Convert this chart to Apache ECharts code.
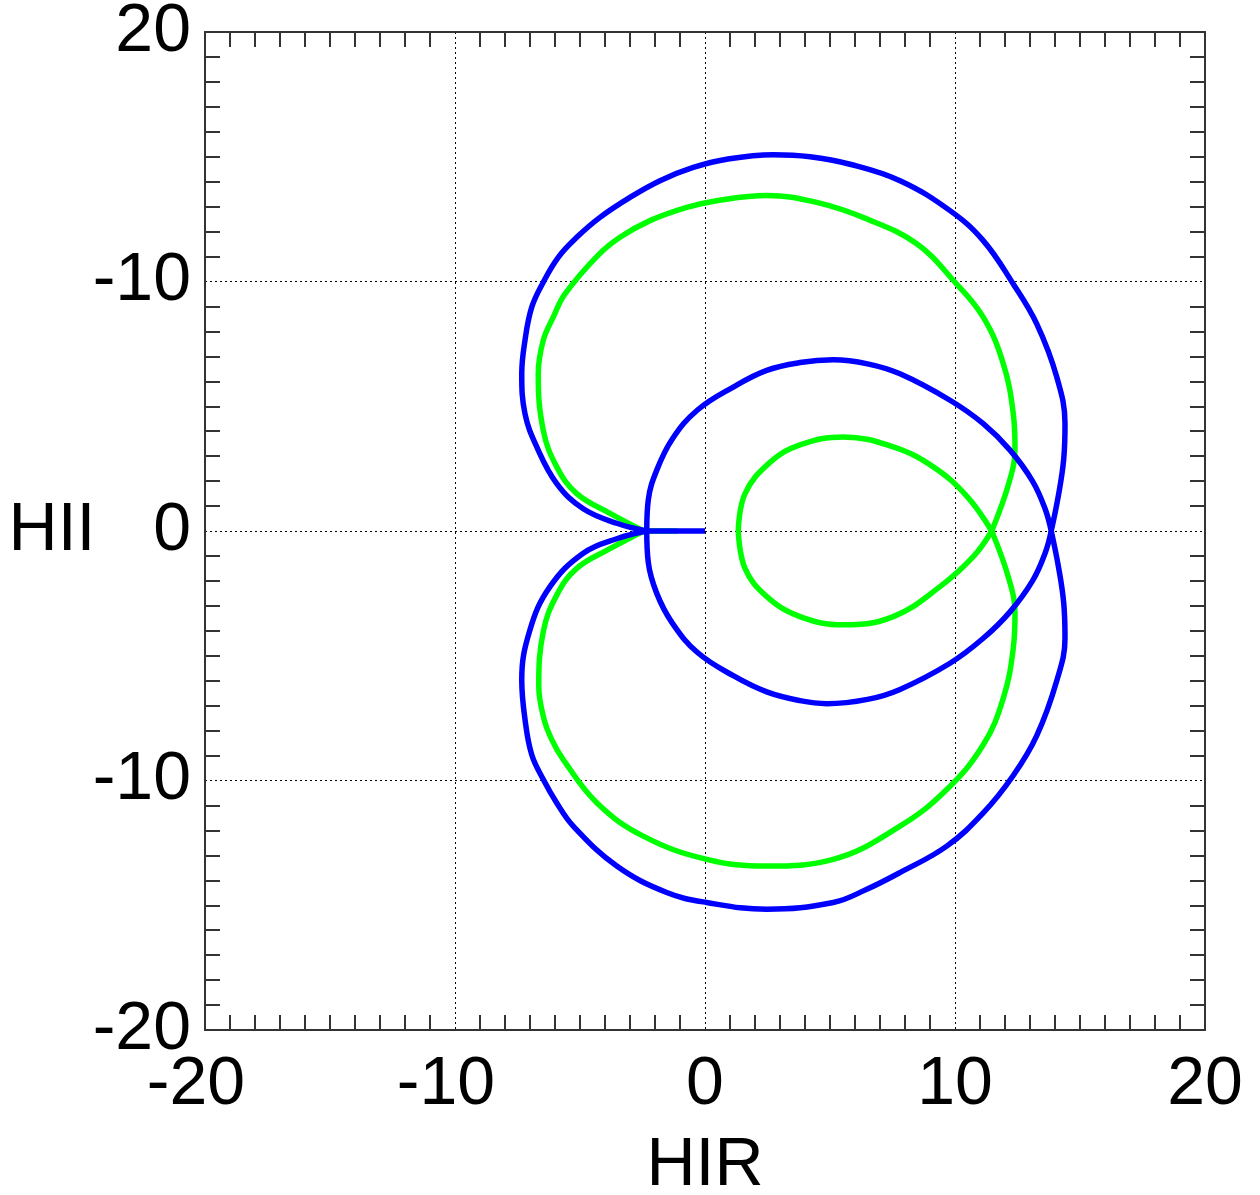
<!DOCTYPE html>
<html>
<head>
<meta charset="utf-8">
<script src="https://cdn.jsdelivr.net/npm/echarts@6/dist/echarts.min.js"></script>
<style>
html,body{margin:0;padding:0;background:#fff;}
#chart{width:1260px;height:1195px;}
</style>
</head>
<body>
<div id="chart"></div>
<script>
// ---- data (HIR, HII) ----
const xTickValues = [-20, -10, 0, 10, 20];
const xTickLabels = ['-20', '-10', '0', '10', '20'];
const yTickValues = [-20, -10, 0, 10, 20];
const yTickLabels = ['-20', '-10', '0', '-10', '20'];
const xName = 'HIR';
const yName = 'HII';

// blue curve segments
const blueOuterUpper = [[-2.33,0],[-3.5,0.3],[-4.87,0.89],[-5.93,1.9],[-6.73,3.37],[-7.2,4.7],[-7.33,6.31],[-7.2,7.64],[-6.93,8.97],[-6.47,9.97],[-5.87,10.97],[-5.13,11.77],[-4.2,12.57],[-3.0,13.37],[-1.8,14.04],[-0.47,14.57],[0.87,14.9],[2.73,15.08],[4.2,15.0],[5.8,14.7],[7.8,14.04],[9.8,12.84],[11.13,11.64],[12.33,9.9],[13.27,8.3],[14.07,6.17],[14.4,4.3],[14.35,2.9],[14.15,1.5],[13.85,0]];
const blueInnerLower = [[13.85,0],[13.6,-0.9],[13.1,-2.0],[12.2,-3.24],[11.13,-4.3],[9.8,-5.3],[7.8,-6.35],[6.5,-6.75],[4.87,-6.92],[3.8,-6.8],[2.47,-6.45],[1.13,-5.8],[-0.3,-4.87],[-1.3,-3.7],[-1.93,-2.5],[-2.27,-1.25],[-2.33,0]];
const blueInnerUpper = [[-2.33,0],[-2.27,1.24],[-1.93,2.44],[-1.3,3.7],[-0.3,4.85],[1.13,5.77],[2.47,6.44],[3.8,6.75],[5.13,6.86],[6.5,6.7],[7.8,6.3],[9.8,5.24],[11.13,4.3],[12.2,3.24],[13.1,2.0],[13.6,0.9],[13.85,0]];
const blueOuterLower = [[13.85,0],[14.15,-1.5],[14.35,-2.9],[14.4,-4.3],[14.07,-6.0],[13.27,-8.2],[12.33,-9.8],[11.13,-11.3],[9.67,-12.63],[7.8,-13.69],[6.47,-14.36],[5.13,-14.89],[2.47,-15.16],[0.07,-14.89],[-1.53,-14.49],[-3.53,-13.43],[-5.27,-11.83],[-5.93,-10.9],[-6.5,-9.9],[-6.93,-8.97],[-7.18,-7.7],[-7.33,-5.96],[-7.0,-3.96],[-6.2,-2.23],[-4.87,-0.89],[-3.5,-0.3],[-2.33,0]];
const blueTail = [[-2.33,0],[0,0]];

// green curve segments
const greenOuterUpper = [[-2.45,0],[-3.8,0.71],[-5.13,1.5],[-5.93,2.57],[-6.47,4.04],[-6.67,6.31],[-6.47,7.64],[-6.07,8.57],[-5.6,9.5],[-4.33,11.0],[-3.4,11.77],[-2.2,12.44],[-0.73,12.97],[0.47,13.24],[2.47,13.45],[4.47,13.17],[6.47,12.51],[8.47,11.51],[10.0,9.97],[11.13,8.57],[11.93,6.71],[12.33,4.71],[12.4,3.3],[12.15,1.9],[11.47,0]];
const greenInnerLower = [[11.47,0],[10.73,-1.03],[9.4,-2.23],[7.53,-3.43],[5.53,-3.76],[3.8,-3.43],[2.47,-2.63],[1.6,-1.5],[1.33,0]];
const greenInnerUpper = [[1.33,0],[1.6,1.5],[2.6,2.75],[3.8,3.45],[5.53,3.77],[7.53,3.37],[9.13,2.57],[10.47,1.4],[11.47,0]];
const greenOuterLower = [[11.47,0],[12.15,-1.9],[12.4,-3.3],[12.33,-4.71],[11.93,-6.71],[11.13,-8.57],[9.67,-10.36],[7.8,-11.83],[5.13,-13.16],[2.47,-13.43],[0.07,-13.16],[-2.47,-12.23],[-4.33,-10.89],[-5.67,-9.16],[-6.13,-8.36],[-6.45,-7.5],[-6.65,-6.2],[-6.47,-4.04],[-5.93,-2.57],[-5.13,-1.5],[-3.8,-0.71],[-2.45,0]];
const greenTail = [[-2.45,0],[-1.1,0]];

const BLUE = '#0000ff';
const GREEN = '#00ff00';
const FONT = '"Liberation Sans", Arial, sans-serif';

function lineSeries(data, color) {
  return {
    type: 'line', data: data, xAxisIndex: 0, yAxisIndex: 0,
    showSymbol: false, symbol: 'none', smooth: 0.4,
    lineStyle: { color: color, width: 5.5 }, z: color === BLUE ? 4 : 3,
    animation: false, silent: true
  };
}

function axisCommon(extra) {
  return Object.assign({
    type: 'value', min: -20, max: 20, interval: 10,
    axisLine: { show: true, onZero: false, lineStyle: { color: '#333', width: 2 } },
    axisTick: { show: false, inside: true },
    minorTick: { show: true, splitNumber: 10, length: 15, lineStyle: { color: '#333', width: 2 } },
    splitLine: { show: false },
    minorSplitLine: { show: false }
  }, extra);
}

const chart = echarts.init(document.getElementById('chart'), null, { renderer: 'canvas' });
chart.setOption({
  backgroundColor: '#fff',
  animation: false,
  grid: { left: 205, top: 32, right: 55, bottom: 165, containLabel: false, outerBoundsMode: 'none' },
  xAxis: [
    axisCommon({
      position: 'bottom',
      name: xName, nameLocation: 'middle', nameGap: 102,
      nameTextStyle: { fontFamily: FONT, fontSize: 68, color: '#000' },
      axisLabel: { show: true, margin: 21, fontFamily: FONT, fontSize: 68, color: '#000',
        formatter: v => {
          const t = xTickLabels[xTickValues.indexOf(v)];
          return v < 0 ? '{neg|' + t + '}' : t;
        },
        rich: { neg: { fontFamily: FONT, fontSize: 68, color: '#000', padding: [0, 18, 0, 0] } }
      },
      splitLine: { show: true, lineStyle: { color: '#000', width: 1, type: [2, 3] } }
    }),
    axisCommon({ position: 'top', axisLabel: { show: false } })
  ],
  yAxis: [
    axisCommon({
      position: 'left',
      name: yName, nameLocation: 'middle', nameGap: 153, nameRotate: 0, nameMoveOverlap: false,
      nameTextStyle: { fontFamily: FONT, fontSize: 68, color: '#000', align: 'center', verticalAlign: 'middle' },
      axisLabel: { show: true, margin: 14, fontFamily: FONT, fontSize: 68, color: '#000',
        formatter: v => yTickLabels[yTickValues.indexOf(v)] },
      splitLine: { show: true, lineStyle: { color: '#000', width: 1, type: [2, 3] } }
    }),
    axisCommon({ position: 'right', axisLabel: { show: false } })
  ],
  series: [
    lineSeries(greenOuterUpper, GREEN),
    lineSeries(greenInnerLower, GREEN),
    lineSeries(greenInnerUpper, GREEN),
    lineSeries(greenOuterLower, GREEN),
    lineSeries(greenTail, GREEN),
    lineSeries(blueOuterUpper, BLUE),
    lineSeries(blueInnerLower, BLUE),
    lineSeries(blueInnerUpper, BLUE),
    lineSeries(blueOuterLower, BLUE),
    lineSeries(blueTail, BLUE)
  ]
});
</script>
</body>
</html>
